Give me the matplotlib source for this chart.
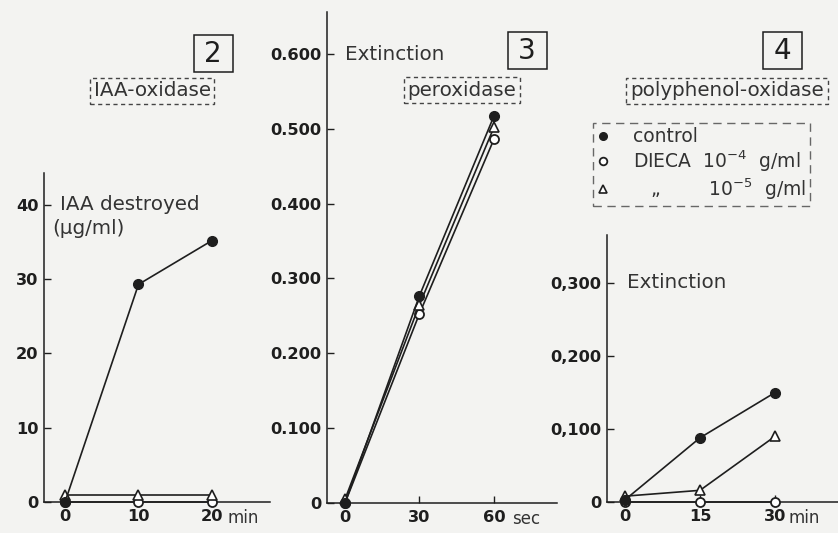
import matplotlib
matplotlib.use("Agg")
import matplotlib.pyplot as plt
from matplotlib.patches import Rectangle

# ---------------- data ----------------
# Panel 2: IAA-oxidase (IAA destroyed, ug/ml) vs time (min)
t2 = [0, 10, 20]
iaa_control = [0, 29.3, 35.2]
iaa_dieca4 = [0, 0, 0]
iaa_dieca5 = [1.0, 1.0, 1.0]

# Panel 3: peroxidase (Extinction) vs time (sec)
t3 = [0, 30, 60]
per_control = [0.0, 0.277, 0.517]
per_dieca4 = [0.0, 0.253, 0.486]
per_dieca5 = [0.005, 0.265, 0.502]

# Panel 4: polyphenol-oxidase (Extinction) vs time (min)
t4 = [0, 15, 30]
ppo_control = [0.003, 0.088, 0.150]
ppo_dieca4 = [0.0, 0.0, 0.0]
ppo_dieca5 = [0.008, 0.016, 0.090]

y2_ticks = [0, 10, 20, 30, 40]
y2_labels = ["0", "10", "20", "30", "40"]
y3_ticks = [0, 0.1, 0.2, 0.3, 0.4, 0.5, 0.6]
y3_labels = ["0", "0.100", "0.200", "0.300", "0.400", "0.500", "0.600"]
y4_ticks = [0, 0.1, 0.2, 0.3]
y4_labels = ["0", "0,100", "0,200", "0,300"]

legend_labels = ["control",
                 r"DIECA  $10^{-4}$  g/ml",
                 "   \u201e        $10^{-5}$  g/ml"]

# ---------------- style ----------------
W, H = 838, 533
BG = "#f3f3f1"
INK = "#1e1e1e"
TXT = "#333333"
plt.rcParams["font.family"] = ["DejaVu Sans"]
plt.rcParams["mathtext.fontset"] = "dejavusans"

fig = plt.figure(figsize=(W / 100, H / 100), dpi=100, facecolor=BG)


def rect(x0, x1, ytop, ybot):
    return [x0 / W, 1 - ybot / H, (x1 - x0) / W, (ybot - ytop) / H]


def fx(x):
    return x / W


def fy(y):
    return 1 - y / H


def style_axes(ax, xt, yt, ylab):
    ax.set_facecolor("none")
    for s in ("top", "right"):
        ax.spines[s].set_visible(False)
    for s in ("left", "bottom"):
        ax.spines[s].set_color(INK)
        ax.spines[s].set_linewidth(1.1)
    ax.set_xticks(xt)
    ax.set_xticklabels([str(v) for v in xt])
    ax.set_yticks(yt)
    ax.set_yticklabels(ylab)
    ax.tick_params(direction="in", length=5, width=1.0, color=INK,
                   labelcolor=INK, labelsize=11.7)
    ax.tick_params(axis="x", pad=5)
    ax.tick_params(axis="y", pad=4)
    for lab in ax.get_xticklabels() + ax.get_yticklabels():
        lab.set_fontweight("bold")


def plot_series(ax, x, c, d4, d5):
    l1, = ax.plot(x, c, "-o", color=INK, lw=1.2, ms=7, mfc=INK, mec=INK,
                  clip_on=False, zorder=4)
    l2, = ax.plot(x, d4, "-o", color=INK, lw=1.2, ms=6.5, mfc="white",
                  mec=INK, mew=1.3, clip_on=False, zorder=3)
    l3, = ax.plot(x, d5, "-^", color=INK, lw=1.2, ms=7.5, mfc="white",
                  mec=INK, mew=1.2, clip_on=False, zorder=3)
    return l1, l2, l3


def unit(ax, xv, text, dx):
    ax.annotate(text, xy=(xv, 0), xycoords=("data", "axes fraction"),
                xytext=(dx, -11.5), textcoords="offset points",
                ha="left", va="center", fontsize=12, color=TXT)


# Panel 2
ax2 = fig.add_axes(rect(44, 270, 173, 502))
plot_series(ax2, t2, iaa_control, iaa_dieca4, iaa_dieca5)
ax2.set_xlim(-2.86, 27.9)
ax2.set_ylim(0, 44.3)
style_axes(ax2, t2, y2_ticks, y2_labels)
unit(ax2, 20, "min", 11)

# Panel 3
ax3 = fig.add_axes(rect(327, 557, 12, 503))
plot_series(ax3, t3, per_control, per_dieca4, per_dieca5)
ax3.set_xlim(-7.25, 85.4)
ax3.set_ylim(0, 0.656)
style_axes(ax3, t3, y3_ticks, y3_labels)
unit(ax3, 60, "sec", 13)

# Panel 4
ax4 = fig.add_axes(rect(607, 838, 235, 502))
handles = plot_series(ax4, t4, ppo_control, ppo_dieca4, ppo_dieca5)
ax4.set_xlim(-3.6, 42.6)
ax4.set_ylim(0, 0.366)
style_axes(ax4, t4, y4_ticks, y4_labels)
unit(ax4, 30, "min", 9.5)

# Axis captions
fig.text(fx(60), fy(205), "IAA destroyed", fontsize=14.3, color=TXT,
         ha="left", va="center")
fig.text(fx(52), fy(228), "(\u00b5g/ml)", fontsize=14.3, color=TXT,
         ha="left", va="center")
fig.text(fx(345), fy(55), "Extinction", fontsize=14.3, color=TXT,
         ha="left", va="center")
fig.text(fx(627), fy(283), "Extinction", fontsize=14.3, color=TXT,
         ha="left", va="center")

# Boxed panel numbers
for x, y, s in [(213, 53, "2"), (527, 50, "3"), (782, 50, "4")]:
    bw, bh = 39, 37
    fig.add_artist(Rectangle((fx(x - bw / 2), fy(y + bh / 2)), bw / W, bh / H,
                             transform=fig.transFigure, fill=False, ec=INK,
                             lw=1.1))
    fig.text(fx(x), fy(y + 1), s, fontsize=20, color=INK, ha="center",
             va="center")

# Dashed enzyme name boxes
for x, y, s in [(152, 91, "IAA-oxidase"), (462, 90, "peroxidase"),
                (727, 91, "polyphenol-oxidase")]:
    fig.text(fx(x), fy(y), s, fontsize=14.3, color=TXT, ha="center",
             va="center",
             bbox=dict(boxstyle="square,pad=0.2", fc="none", ec="#444444",
                       lw=1.0, ls=(0, (3, 2.5))))

# Legend
leg = fig.legend(handles, legend_labels, loc="upper left",
                 bbox_to_anchor=(fx(593), fy(123)), frameon=True,
                 fancybox=False, fontsize=13.5, handlelength=0.6,
                 handletextpad=1.3, labelspacing=0.12, borderpad=0.22,
                 borderaxespad=0)
fr = leg.get_frame()
fr.set_facecolor("none")
fr.set_edgecolor("#444444")
fr.set_linewidth(1.0)
fr.set_linestyle((0, (6, 4)))
for h in leg.legend_handles:
    h.set_linestyle("none")
    h.set_markersize(5.5)
for t in leg.get_texts():
    t.set_color(TXT)

fig.savefig("out.png", dpi=100, facecolor=BG)
